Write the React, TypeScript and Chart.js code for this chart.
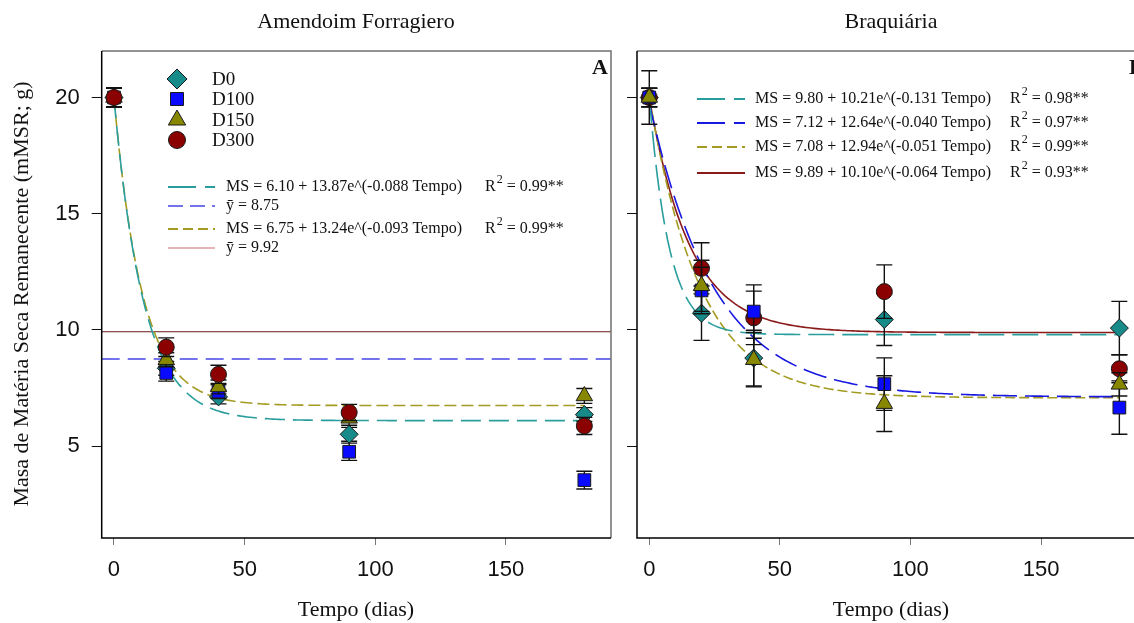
import React, { useEffect, useRef } from "react";
import { Chart, registerables } from "chart.js";

Chart.register(...registerables);

// ---------- data ----------
const times = [0, 20, 40, 90, 180];
const xTicks = [0, 50, 100, 150];
const yTicks = [5, 10, 15, 20];
const seriesLabels = ["D0", "D100", "D150", "D300"];

// Panel A – Amendoim Forragiero
const aD0 = [20.0, 8.35, 7.12, 5.51, 6.36];
const aD100 = [20.0, 8.15, 7.35, 4.76, 3.54];
const aD150 = [20.0, 8.72, 7.55, 6.2, 7.16];
const aD300 = [20.0, 9.26, 8.09, 6.45, 5.87];
const aErrD0 = [0.4, 0.3, 0.3, 0.3, 0.3];
const aErrD100 = [0.4, 0.35, 0.3, 0.37, 0.38];
const aErrD150 = [0.4, 0.3, 0.3, 0.3, 0.32];
const aErrD300 = [0.42, 0.4, 0.39, 0.35, 0.37];

// Panel B – Braquiária
const bD0 = [20.0, 10.72, 8.79, 10.45, 10.08];
const bD100 = [20.0, 11.7, 10.79, 7.67, 6.66];
const bD150 = [20.0, 11.9, 8.72, 6.83, 7.66];
const bD300 = [20.0, 12.65, 10.52, 11.65, 8.33];
const bErrD0 = [0.4, 1.17, 1.2, 1.12, 1.15];
const bErrD100 = [0.4, 1.0, 1.15, 1.13, 1.15];
const bErrD150 = [1.15, 1.1, 1.17, 1.2, 0.5];
const bErrD300 = [0.4, 1.1, 1.15, 1.15, 0.6];

// fitted models: [asymptote, amplitude, rate]
const fitAD0 = [6.1, 13.87, 0.088];
const fitAD150 = [6.75, 13.24, 0.093];
const meanAD100 = 8.75;
const meanAD300 = 9.92;
const r2A = ["0.99**", "0.99**"];
const fitBD0 = [9.8, 10.21, 0.131];
const fitBD100 = [7.12, 12.64, 0.04];
const fitBD150 = [7.08, 12.94, 0.051];
const fitBD300 = [9.89, 10.1, 0.064];
const r2B = ["0.98**", "0.97**", "0.99**", "0.93**"];

// ---------- styling ----------
const X_MIN = -4.7;
const X_MAX = 190.2;
const Y_MIN = 1.05;
const Y_MAX = 22.0;
const SERIF = '"Liberation Serif", "Times New Roman", serif';
const SANS = '"Liberation Sans", Arial, sans-serif';

const C_TEAL = "#178a8a";
const C_BLUE = "#0a0aff";
const C_OLIVE = "#878700";
const C_RED = "#8b0000";

const L_TEAL = "#2a9d9d";
const L_BLUE = "#1818e0";
const L_BLUE_LIGHT = "#4646e6";
const L_OLIVE = "#a39b22";
const L_RED = "#8b1a1a";
const L_PINK = "#e6b4b4";

function curve(p: number[]) {
  const pts: { x: number; y: number }[] = [];
  for (let t = 0; t <= 180; t += 1) pts.push({ x: t, y: p[0] + p[1] * Math.exp(-p[2] * t) });
  return pts;
}
function pts(vals: number[]) {
  return vals.map((v, i) => ({ x: times[i], y: v }));
}
function eqText(p: number[]) {
  return `MS = ${p[0].toFixed(2)} + ${p[1].toFixed(2)}e^(-${p[2].toFixed(3)} Tempo)`;
}

const markerStyles: any[] = [
  { pointStyle: "rectRot", pointRadius: 9, backgroundColor: C_TEAL },
  { pointStyle: "rect", pointRadius: 9, backgroundColor: C_BLUE },
  { pointStyle: "triangle", pointRadius: 9.5, backgroundColor: C_OLIVE },
  { pointStyle: "circle", pointRadius: 8, backgroundColor: C_RED },
];

function markerDataset(idx: number, vals: number[], errs: number[], order: number) {
  return {
    label: seriesLabels[idx],
    data: pts(vals),
    errors: errs,
    showLine: false,
    borderColor: "#1a1a1a",
    pointBorderColor: "#1a1a1a",
    pointBorderWidth: 1,
    pointBackgroundColor: markerStyles[idx].backgroundColor,
    pointStyle: markerStyles[idx].pointStyle,
    pointRadius: markerStyles[idx].pointRadius,
    order,
  };
}
function lineDataset(data: any[], color: string, dash: number[], width: number) {
  return {
    data,
    showLine: true,
    borderColor: color,
    borderWidth: width,
    borderDash: dash,
    pointRadius: 0,
    fill: false,
    order: 10,
  };
}

// ---------- plugins ----------
const framePlugin = {
  id: "frame",
  afterDatasetsDraw(chart: any) {
    const { ctx, chartArea } = chart;
    const { left, right, top, bottom } = chartArea;
    ctx.save();
    ctx.lineWidth = 1.5;
    ctx.strokeStyle = "#707070";
    ctx.beginPath();
    ctx.moveTo(left, top);
    ctx.lineTo(right, top);
    ctx.lineTo(right, bottom);
    ctx.stroke();
    ctx.strokeStyle = "#000";
    ctx.beginPath();
    ctx.moveTo(left, top);
    ctx.lineTo(left, bottom);
    ctx.lineTo(right, bottom);
    ctx.stroke();
    ctx.restore();
  },
};

const errorBarPlugin = {
  id: "errbars",
  beforeDatasetDraw(chart: any, args: any) {
    const ds = chart.data.datasets[args.index];
    if (!ds.errors) return;
    const ctx = chart.ctx;
    const xs = chart.scales.x;
    const ys = chart.scales.y;
    ctx.save();
    ctx.strokeStyle = "#111";
    ctx.lineWidth = 1.4;
    ds.data.forEach((p: any, i: number) => {
      const e = ds.errors[i];
      if (!e) return;
      const px = xs.getPixelForValue(p.x);
      const y1 = ys.getPixelForValue(p.y + e);
      const y2 = ys.getPixelForValue(p.y - e);
      ctx.beginPath();
      ctx.moveTo(px, y1);
      ctx.lineTo(px, y2);
      ctx.moveTo(px - 8, y1);
      ctx.lineTo(px + 8, y1);
      ctx.moveTo(px - 8, y2);
      ctx.lineTo(px + 8, y2);
      ctx.stroke();
    });
    ctx.restore();
  },
};

function drawLegendLine(ctx: any, x1: number, x2: number, y: number, color: string, dash: number[], w: number) {
  ctx.save();
  ctx.strokeStyle = color;
  ctx.lineWidth = w;
  ctx.setLineDash(dash);
  ctx.beginPath();
  ctx.moveTo(x1, y);
  ctx.lineTo(x2, y);
  ctx.stroke();
  ctx.restore();
}

function drawR2(ctx: any, x: number, y: number, val: string) {
  ctx.font = `16px ${SERIF}`;
  ctx.textAlign = "left";
  ctx.textBaseline = "middle";
  ctx.fillText("R", x, y);
  const w = ctx.measureText("R").width;
  ctx.font = `12px ${SERIF}`;
  ctx.fillText("2", x + w + 1, y - 7);
  const w2 = ctx.measureText("2").width;
  ctx.font = `16px ${SERIF}`;
  ctx.fillText(" = " + val, x + w + w2 + 1, y);
}

function drawMarker(ctx: any, style: string, x: number, y: number, color: string) {
  ctx.save();
  ctx.fillStyle = color;
  ctx.strokeStyle = "#1a1a1a";
  ctx.lineWidth = 1;
  ctx.beginPath();
  if (style === "diamond") {
    const r = 10;
    ctx.moveTo(x, y - r);
    ctx.lineTo(x + r, y);
    ctx.lineTo(x, y + r);
    ctx.lineTo(x - r, y);
    ctx.closePath();
  } else if (style === "square") {
    ctx.rect(x - 6.5, y - 6.5, 13, 13);
  } else if (style === "triangle") {
    const r = 10;
    ctx.moveTo(x, y - r);
    ctx.lineTo(x + r * 0.866, y + r * 0.5);
    ctx.lineTo(x - r * 0.866, y + r * 0.5);
    ctx.closePath();
  } else {
    ctx.arc(x, y, 8.5, 0, Math.PI * 2);
  }
  ctx.fill();
  ctx.stroke();
  ctx.restore();
}

function textPlugin(draw: (ctx: any, chart: any) => void) {
  return {
    id: "texts",
    afterDraw(chart: any) {
      const ctx = chart.ctx;
      ctx.save();
      ctx.fillStyle = "#111";
      draw(ctx, chart);
      ctx.restore();
    },
  };
}

function centerText(ctx: any, text: string, x: number, y: number, font: string) {
  ctx.font = font;
  ctx.textAlign = "center";
  ctx.textBaseline = "middle";
  ctx.fillText(text, x, y);
}

// ---------- chart configs ----------
function scales(yWidth: number, showYLabels: boolean) {
  return {
    x: {
      type: "linear",
      min: X_MIN,
      max: X_MAX,
      afterBuildTicks: (s: any) => {
        s.ticks = xTicks.map((v) => ({ value: v }));
      },
      afterFit: (s: any) => {
        s.height = 85;
      },
      grid: { display: true, drawOnChartArea: false, drawTicks: true, tickLength: 7, color: "#777", tickColor: "#777" },
      border: { display: false },
      ticks: { font: { family: SANS, size: 22 }, color: "#111", padding: 12, maxRotation: 0, autoSkip: false },
    },
    y: {
      type: "linear",
      min: Y_MIN,
      max: Y_MAX,
      afterBuildTicks: (s: any) => {
        s.ticks = yTicks.map((v) => ({ value: v }));
      },
      afterFit: (s: any) => {
        s.width = yWidth;
      },
      grid: { display: true, drawOnChartArea: false, drawTicks: true, tickLength: 10, color: "#111", tickColor: "#111" },
      border: { display: false },
      ticks: {
        font: { family: SANS, size: 22 },
        color: "#111",
        padding: 12,
        callback: (v: any) => (showYLabels ? String(v) : ""),
      },
    },
  };
}

const baseOptions = {
  responsive: false,
  animation: false,
  events: [],
  plugins: { legend: { display: false }, tooltip: { enabled: false } },
};

function configA(): any {
  const offset = 0;
  return {
    type: "scatter",
    data: {
      datasets: [
        lineDataset(curve(fitAD0), L_TEAL, [20, 8], 1.6),
        lineDataset([{ x: X_MIN, y: meanAD100 }, { x: X_MAX, y: meanAD100 }], L_BLUE_LIGHT, [18, 8], 1.4),
        lineDataset(curve(fitAD150), L_OLIVE, [12, 5], 1.6),
        lineDataset([{ x: X_MIN, y: meanAD300 }, { x: X_MAX, y: meanAD300 }], "#6b1a1a", [], 1.1),
        markerDataset(0, aD0, aErrD0, 4),
        markerDataset(1, aD100, aErrD100, 3),
        markerDataset(2, aD150, aErrD150, 2),
        markerDataset(3, aD300, aErrD300, 1),
      ],
    },
    options: {
      ...baseOptions,
      layout: { padding: { left: 0, right: 11, top: 51, bottom: 0 } },
      scales: scales(101.7, true),
    },
    plugins: [
      errorBarPlugin,
      framePlugin,
      textPlugin((ctx) => {
        const o = offset;
        centerText(ctx, "Amendoim Forragiero", 356 - o, 22, `22px ${SERIF}`);
        centerText(ctx, "Tempo (dias)", 356 - o, 610, `22px ${SERIF}`);
        ctx.save();
        ctx.translate(22 - o, 294);
        ctx.rotate(-Math.PI / 2);
        centerText(ctx, "Masa de Matéria Seca Remanecente (mMSR; g)", 0, 0, `22px ${SERIF}`);
        ctx.restore();
        ctx.font = `bold 22px ${SERIF}`;
        ctx.textAlign = "right";
        ctx.textBaseline = "middle";
        ctx.fillText("A", 608 - o, 68);
        // marker legend
        const mk = ["diamond", "square", "triangle", "circle"];
        const mc = [C_TEAL, C_BLUE, C_OLIVE, C_RED];
        const my = [79, 99, 120, 140];
        mk.forEach((s, i) => {
          drawMarker(ctx, s, 177 - o, my[i], mc[i]);
          ctx.fillStyle = "#111";
          ctx.font = `19px ${SERIF}`;
          ctx.textAlign = "left";
          ctx.textBaseline = "middle";
          ctx.fillText(seriesLabels[i], 212 - o, my[i] + 1);
        });
        // line legend
        const rows = [187, 206, 229, 248];
        drawLegendLine(ctx, 168 - o, 215 - o, rows[0], L_TEAL, [28, 9], 2);
        drawLegendLine(ctx, 168 - o, 215 - o, rows[1], L_BLUE_LIGHT, [15, 7], 1.4);
        drawLegendLine(ctx, 168 - o, 215 - o, rows[2], L_OLIVE, [10, 5], 2);
        drawLegendLine(ctx, 168 - o, 215 - o, rows[3], L_PINK, [], 2);
        ctx.fillStyle = "#111";
        ctx.font = `16px ${SERIF}`;
        ctx.textAlign = "left";
        ctx.textBaseline = "middle";
        ctx.fillText(eqText(fitAD0), 226 - o, rows[0]);
        ctx.fillText(`ȳ = ${meanAD100.toFixed(2)}`, 226 - o, rows[1]);
        ctx.fillText(eqText(fitAD150), 226 - o, rows[2]);
        ctx.fillText(`ȳ = ${meanAD300.toFixed(2)}`, 226 - o, rows[3]);
        drawR2(ctx, 485 - o, rows[0], r2A[0]);
        drawR2(ctx, 485 - o, rows[2], r2A[1]);
      }),
    ],
  };
}

function configB(): any {
  const offset = 600;
  return {
    type: "scatter",
    data: {
      datasets: [
        lineDataset(curve(fitBD0), L_TEAL, [26, 8], 1.6),
        lineDataset(curve(fitBD100), L_BLUE, [24, 8], 1.6),
        lineDataset(curve(fitBD150), L_OLIVE, [10, 4], 1.6),
        lineDataset(curve(fitBD300), L_RED, [], 1.6),
        markerDataset(0, bD0, bErrD0, 4),
        markerDataset(1, bD100, bErrD100, 2),
        markerDataset(2, bD150, bErrD150, 1),
        markerDataset(3, bD300, bErrD300, 3),
      ],
    },
    options: {
      ...baseOptions,
      layout: { padding: { left: 0, right: 24, top: 51, bottom: 0 } },
      scales: scales(37, false),
    },
    plugins: [
      errorBarPlugin,
      framePlugin,
      textPlugin((ctx) => {
        const o = offset;
        centerText(ctx, "Braquiária", 891 - o, 22, `22px ${SERIF}`);
        centerText(ctx, "Tempo (dias)", 891 - o, 610, `22px ${SERIF}`);
        ctx.font = `bold 22px ${SERIF}`;
        ctx.textAlign = "left";
        ctx.textBaseline = "middle";
        ctx.fillText("B", 1129 - o, 68);
        const rows = [99, 123, 147, 173];
        const fits = [fitBD0, fitBD100, fitBD150, fitBD300];
        const cols = [L_TEAL, L_BLUE, L_OLIVE, L_RED];
        const dashes = [[28, 9], [28, 9], [10, 5], []];
        fits.forEach((f, i) => {
          drawLegendLine(ctx, 697 - o, 745 - o, rows[i], cols[i], dashes[i], 2);
          ctx.fillStyle = "#111";
          ctx.font = `16px ${SERIF}`;
          ctx.textAlign = "left";
          ctx.textBaseline = "middle";
          ctx.fillText(eqText(f), 755 - o, rows[i]);
          drawR2(ctx, 1010 - o, rows[i], r2B[i]);
        });
      }),
    ],
  };
}

export default function App() {
  const refA = useRef<HTMLCanvasElement | null>(null);
  const refB = useRef<HTMLCanvasElement | null>(null);
  useEffect(() => {
    const ca = new Chart(refA.current as HTMLCanvasElement, configA());
    const cb = new Chart(refB.current as HTMLCanvasElement, configB());
    return () => {
      ca.destroy();
      cb.destroy();
    };
  }, []);
  return (
    <div
      style={{
        position: "fixed",
        left: 0,
        top: 0,
        width: 1134,
        height: 623,
        overflow: "hidden",
        background: "#fff",
      }}
    >
      <canvas
        ref={refA}
        width={622}
        height={623}
        style={{ position: "absolute", left: 0, top: 0, width: 622, height: 623 }}
      />
      <canvas
        ref={refB}
        width={570}
        height={623}
        style={{ position: "absolute", left: 600, top: 0, width: 570, height: 623 }}
      />
    </div>
  );
}
